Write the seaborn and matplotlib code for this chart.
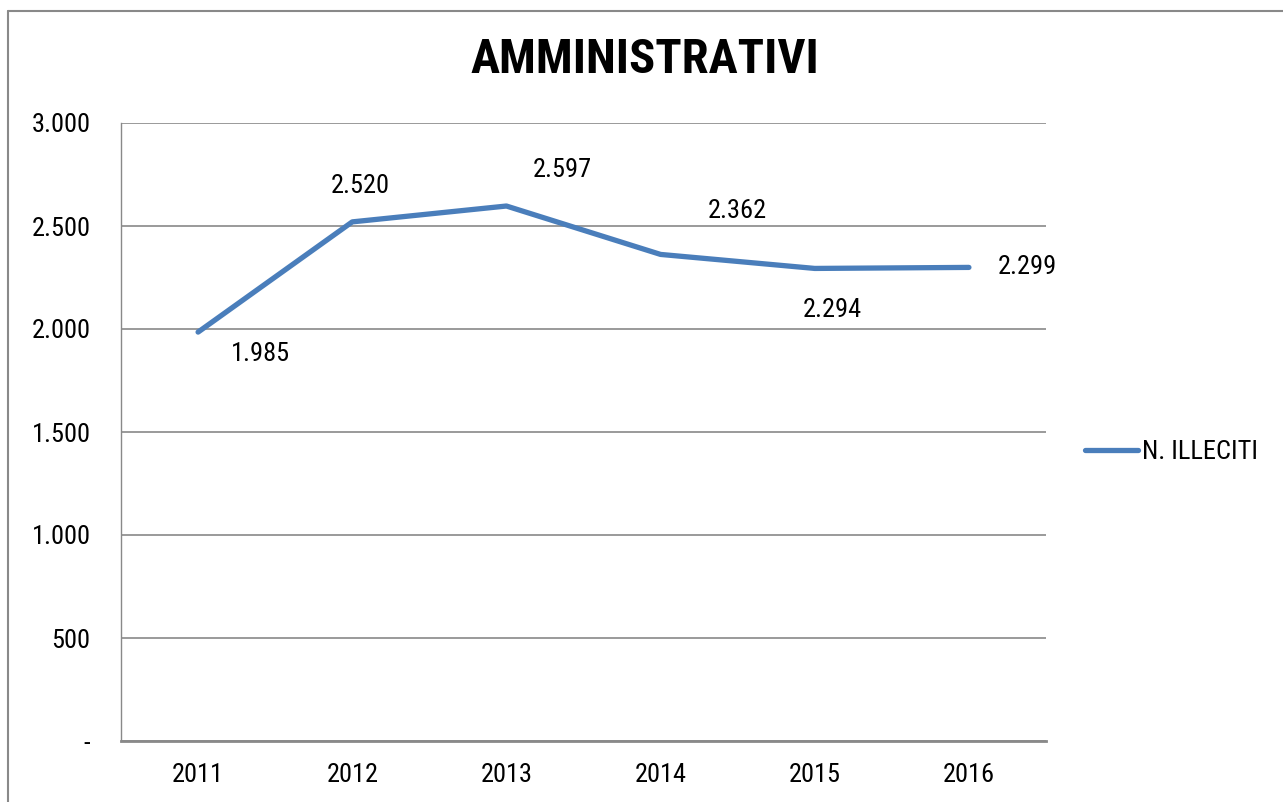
import matplotlib
matplotlib.use("Agg")
import matplotlib.pyplot as plt
import matplotlib.ticker as mticker
from matplotlib.lines import Line2D
import seaborn as sns
import pandas as pd

years = ["2011", "2012", "2013", "2014", "2015", "2016"]
illeciti = [1985, 2520, 2597, 2362, 2294, 2299]
series_name = "N. ILLECITI"
title = "AMMINISTRATIVI"

sns.set_theme(style="white")
plt.rcParams["font.family"] = ["Roboto Condensed", "DejaVu Sans"]
plt.rcParams["text.color"] = "black"

df = pd.DataFrame({"anno": years, "valore": illeciti, "serie": series_name})
df["pos"] = range(len(years))

W, H = 1283, 802
fig = plt.figure(figsize=(W / 100, H / 100), dpi=100)
ax = fig.add_axes([121 / W, 1 - 741 / H, (1046 - 121) / W, (741 - 123) / H])

blue = "#4A7EBB"
grey = "#898989"
sns.lineplot(data=df, x="pos", y="valore", ax=ax, color=blue, linewidth=3.8,
             solid_capstyle="round", solid_joinstyle="round", legend=False)

ax.set_xlim(-0.5, len(years) - 0.5)
ax.set_ylim(0, 3000)
ax.set_xticks(range(len(years)))
ax.set_xticklabels(years)
ax.set_yticks(range(0, 3001, 500))


def fmt(v, _):
    if v == 0:
        return "-"
    return f"{int(v):,}".replace(",", ".")


ax.yaxis.set_major_formatter(mticker.FuncFormatter(fmt))
ax.tick_params(axis="both", length=0, labelsize=19, colors="black")
ax.tick_params(axis="y", pad=22)
ax.tick_params(axis="x", pad=16)
ax.set_xlabel("")
ax.set_ylabel("")

ax.grid(axis="y", color=grey, linewidth=1.2)
ax.grid(axis="x", visible=False)
for side in ["top", "right"]:
    ax.spines[side].set_visible(False)
ax.spines["left"].set_color(grey)
ax.spines["bottom"].set_color(grey)
ax.spines["left"].set_linewidth(1.0)
ax.spines["bottom"].set_linewidth(2.0)

# data labels, offsets in points from each point
offsets = [(45, -16), (6, 26), (40, 26), (55, 31), (13, -30), (42, 0)]
for i, v in enumerate(illeciti):
    dx, dy = offsets[i]
    ax.annotate(fmt(v, None), (i, v), xytext=(dx, dy), textcoords="offset points",
                ha="center", va="center", fontsize=19, color="black")

fig.suptitle(title, x=645 / W, y=1 - 60 / H, va="center",
             fontsize=35, fontweight="bold", color="black")

handle = Line2D([0], [0], color=blue, linewidth=3.8, solid_capstyle="round")
fig.legend([handle], [series_name], loc="center left",
           bbox_to_anchor=(1085 / W, 1 - 452 / H), frameon=False,
           fontsize=19, handlelength=2.0, handletextpad=0.15, borderpad=0,
           borderaxespad=0, labelcolor="black")

# outer chart frame
fig.add_artist(Line2D([8 / W, 8 / W], [0, 1 - 11 / H], transform=fig.transFigure,
                      color=grey, linewidth=1.5))
fig.add_artist(Line2D([8 / W, 1], [1 - 11 / H, 1 - 11 / H], transform=fig.transFigure,
                      color=grey, linewidth=1.5))

fig.savefig("out.png", dpi=100)
